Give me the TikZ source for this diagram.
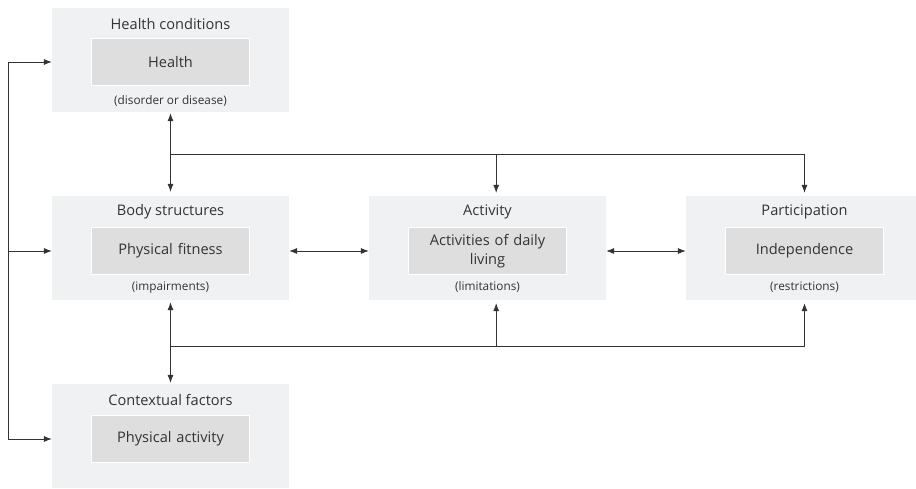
\documentclass[tikz,border=0pt]{standalone}
\usepackage{fontspec}
\setmainfont{Open Sans}
\usetikzlibrary{arrows.meta}
\definecolor{outerfill}{HTML}{F0F1F3}
\definecolor{innerfill}{HTML}{DEDEDF}
\definecolor{linegray}{HTML}{333333}
\begin{document}
\begin{tikzpicture}[x=1pt,y=-1pt,
  outer/.style={fill=outerfill, minimum width=237pt, minimum height=104pt, inner sep=0pt},
  inner/.style={fill=innerfill, draw=white, line width=0.6pt, minimum width=158pt, minimum height=47pt,
    text width=156pt, align=center, inner sep=0pt, font=\fontsize{14.6}{19}\selectfont, text=linegray},
  title/.style={font=\fontsize{14.6}{18}\selectfont, text=linegray, inner sep=0pt},
  note/.style={font=\fontsize{11.8}{14}\selectfont, text=linegray, inner sep=0pt},
  link/.style={draw=linegray, line width=0.7pt},
  >={Latex[length=8pt,width=6pt]}]
\clip (0,0) rectangle (916,488);

% Health conditions
\node[outer] (hc) at (170.5,60) {};
\node[inner] (hcin) at ([yshift=-2pt]hc.center) {Health};
\node[title] (hct) at ([yshift=-16pt]hc.north) {Health conditions};
\node[note] (hcs) at ([yshift=11pt]hc.south) {(disorder or disease)};

% Body structures
\node[outer] (bs) at (170.5,248) {};
\node[inner] (bsin) at ([yshift=-3pt]bs.center) {Physical fitness};
\node[title] (bst) at ([yshift=-16pt]bs.north) {Body structures};
\node[note] (bss) at ([yshift=13pt]bs.south) {(impairments)};

% Activity
\node[outer] (act) at (487.5,248) {};
\node[inner] (actin) at ([yshift=-3pt]act.center) {Activities of daily\\living};
\node[title] (actt) at ([yshift=-16pt]act.north) {Activity};
\node[note] (acts) at ([yshift=13pt]act.south) {(limitations)};

% Participation
\node[outer] (par) at (804.5,248) {};
\node[inner] (parin) at ([yshift=-3pt]par.center) {Independence};
\node[title] (part) at ([yshift=-16pt]par.north) {Participation};
\node[note] (pars) at ([yshift=13pt]par.south) {(restrictions)};

% Contextual factors
\node[outer] (cf) at (170.5,436) {};
\node[inner] (cfin) at ([yshift=-3pt]cf.center) {Physical activity};
\node[title] (cft) at ([yshift=-16pt]cf.north) {Contextual factors};

% Left bus
\coordinate (bus) at (8,0);
\draw[link] (bus |- hcin) -- (bus |- cfin);
\draw[link,->] (bus |- hcin) -- (hc.west |- hcin);
\draw[link,->] (bus |- bsin) -- (bs.west |- bsin);
\draw[link,->] (bus |- cfin) -- (cf.west |- cfin);

% Upper links
\coordinate (topj) at (170.5,154);
\draw[link,<->,shorten <=1pt,shorten >=4pt] (hc.south) -- (bs.north);
\draw[link] (topj) -- (topj -| par);
\draw[link,->,shorten >=3pt] (topj -| act.north east) ++(-110pt,0) coordinate (acttop) -- (acttop |- act.north);
\draw[link,->,shorten >=3pt] (topj -| par) -- (par.north);

% Side links
\draw[link,<->] (bs.east |- bsin) -- (act.west |- actin);
\draw[link,<->] (act.east |- actin) -- (par.west |- parin);

% Lower links
\coordinate (botj) at (170.5,346);
\draw[link,<->,shorten <=2pt,shorten >=1pt] (bs.south) -- (cf.north);
\draw[link] (botj) -- (botj -| par);
\draw[link,->,shorten >=3pt] (acttop |- botj) -- (acttop |- act.south);
\draw[link,->,shorten >=3pt] (botj -| par) -- (par.south);
\end{tikzpicture}
\end{document}
